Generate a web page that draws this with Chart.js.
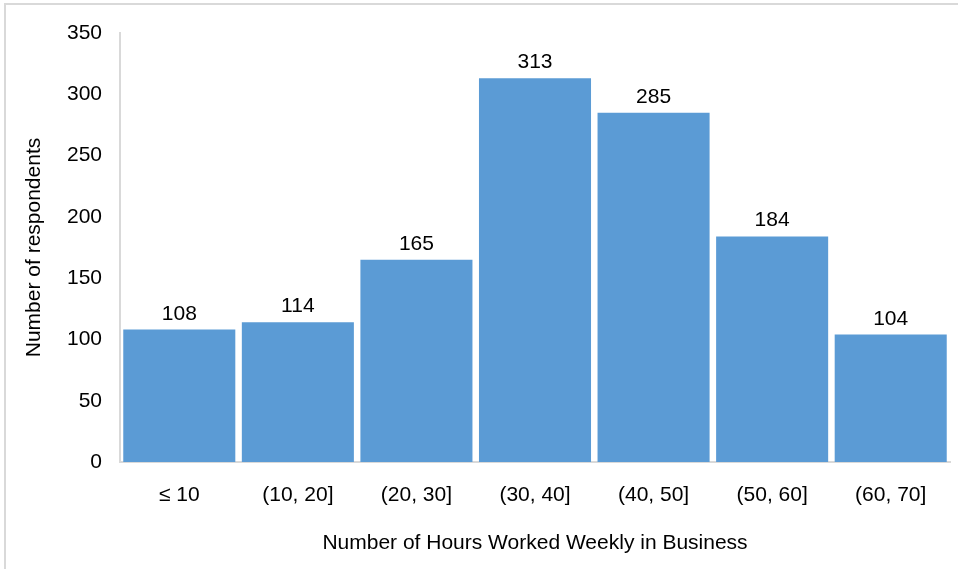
<!DOCTYPE html>
<html>
<head>
<meta charset="utf-8">
<script src="https://cdn.jsdelivr.net/npm/chart.js@4.4.1/dist/chart.umd.min.js"></script>
<style>
  html, body { margin: 0; padding: 0; background: #fff; }
  #wrap { position: relative; width: 958px; height: 569px; }
  #frame { position: absolute; left: 4px; top: 3px; right: 0; bottom: 0;
           border-left: 2px solid #d9d9d9; border-top: 2px solid #d9d9d9; }
  canvas { position: absolute; left: 0; top: 0; }
</style>
</head>
<body>
<div id="wrap">
  <div id="frame"></div>
  <canvas id="histChart" width="958" height="569"></canvas>
</div>
<script>
// data
var categories = ["\u2264 10", "(10, 20]", "(20, 30]", "(30, 40]", "(40, 50]", "(50, 60]", "(60, 70]"];
var respondents = [108, 114, 165, 313, 285, 184, 104];
var yTicks = [0, 50, 100, 150, 200, 250, 300, 350];

var FONT = "'Liberation Sans', Arial, sans-serif";

// value labels above bars
var barLabels = {
  id: 'barLabels',
  afterDatasetsDraw: function(chart) {
    var ctx = chart.ctx;
    var meta = chart.getDatasetMeta(0);
    ctx.save();
    ctx.font = "21px " + FONT;
    ctx.fillStyle = "#000";
    ctx.textAlign = "center";
    ctx.textBaseline = "alphabetic";
    meta.data.forEach(function(bar, i) {
      ctx.fillText(respondents[i], bar.x, bar.y - 10);
    });
    ctx.restore();
  }
};

var ctx = document.getElementById("histChart").getContext('2d');
var histChart = new Chart(ctx, {
  type: 'bar',
  data: {
    labels: categories,
    datasets: [{
      data: respondents,
      backgroundColor: "#5B9BD5",
      borderWidth: 0,
      barPercentage: 0.945,
      categoryPercentage: 1.0
    }]
  },
  options: {
    responsive: false,
    animation: false,
    layout: { padding: { left: 0, top: 33, right: 8, bottom: 0 } },
    plugins: {
      legend: { display: false },
      tooltip: { enabled: false }
    },
    scales: {
      x: {
        grid: { display: false, drawTicks: false },
        border: { display: true, color: "#d9d9d9", width: 2 },
        ticks: { color: "#000", font: { family: FONT, size: 21 }, padding: 21, maxRotation: 0 },
        title: { display: true, text: "Number of Hours Worked Weekly in Business", color: "#000",
                 font: { family: FONT, size: 21 }, padding: { top: 0, bottom: 13 } },
        afterFit: function(s) { s.height = 107; }
      },
      y: {
        min: 0,
        max: 350,
        afterBuildTicks: function(s) { s.ticks = yTicks.map(function(v) { return { value: v }; }); },
        grid: { display: false, drawTicks: false },
        border: { display: true, color: "#d9d9d9", width: 2 },
        ticks: { color: "#000", font: { family: FONT, size: 21 }, padding: 18 },
        title: { display: true, text: "Number of respondents", color: "#000",
                 font: { family: FONT, size: 21 }, padding: { top: 22, bottom: 0 } },
        afterFit: function(s) { s.width = 120; }
      }
    }
  },
  plugins: [barLabels]
});
</script>
</body>
</html>
